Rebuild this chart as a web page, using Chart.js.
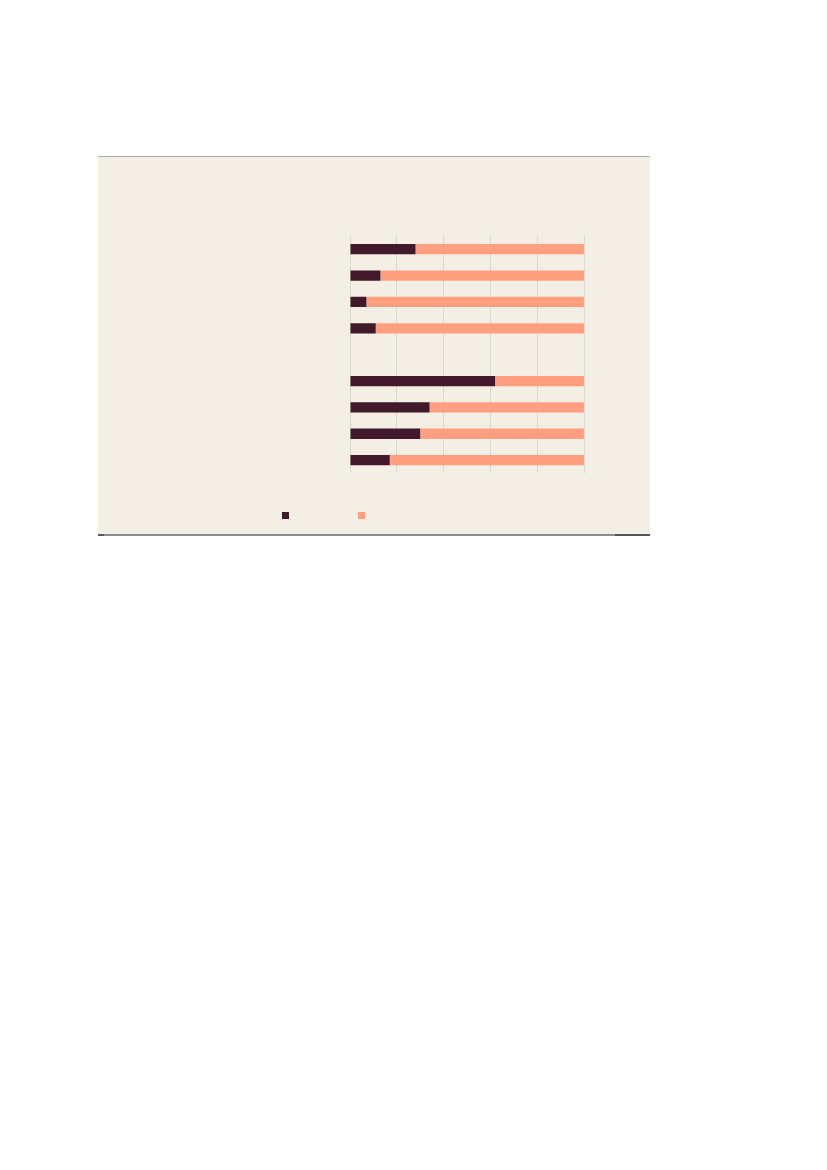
<!DOCTYPE html>
<html>
<head>
<meta charset="utf-8">
<script src="https://cdn.jsdelivr.net/npm/chart.js@4.4.1/dist/chart.umd.min.js"></script>
<style>
  html, body { margin: 0; padding: 0; background: #ffffff; }
  body { width: 827px; height: 1170px; position: relative; overflow: hidden; }
  #panel {
    position: absolute; left: 98px; top: 156px; width: 552px; height: 379px;
    background: #f4efe5; border-top: 1px solid #a9a9a9;
  }
  #bottomRule {
    position: absolute; left: 98px; top: 534px; width: 552px; height: 2px;
    background: linear-gradient(to right, #5a5a5a 0px, #5a5a5a 6px, #8e8e8e 6px, #8e8e8e 517px, #555555 517px, #555555 552px);
  }
  #chart { position: absolute; left: 98px; top: 157px; }
</style>
</head>
<body>
<div id="panel"></div>
<canvas id="chart" width="552" height="378"></canvas>
<div id="bottomRule"></div>
<script>
// Categories (row labels are not printed in the reference)
const categories = ['Row 1', 'Row 2', 'Row 3', 'Row 4', 'Gap', 'Row 5', 'Row 6', 'Row 7', 'Row 8'];
// Series values (shares, %)
const seriesDark  = [28, 13, 7, 11, null, 62, 34, 30, 17];
const seriesLight = [72, 87, 93, 89, null, 38, 66, 70, 83];
// Axis ticks
const xTicks = [0, 20, 40, 60, 80, 100];

const darkColor = '#41192a';
const lightColor = '#ff9f80';

new Chart(document.getElementById('chart'), {
  type: 'bar',
  data: {
    labels: categories,
    datasets: [
      { label: '', data: seriesDark, backgroundColor: darkColor, borderWidth: 0,
        categoryPercentage: 1, barPercentage: 0.39 },
      { label: '', data: seriesLight, backgroundColor: lightColor, borderWidth: 0,
        categoryPercentage: 1, barPercentage: 0.39 }
    ]
  },
  options: {
    indexAxis: 'y',
    responsive: false,
    animation: false,
    layout: { padding: { left: 159, right: 66, top: 79, bottom: 3.5 } },
    scales: {
      x: {
        stacked: true,
        min: xTicks[0],
        max: xTicks[xTicks.length - 1],
        afterBuildTicks: (axis) => { axis.ticks = xTicks.map(v => ({ value: v })); },
        ticks: { display: false },
        grid: { color: '#d9d7d3', lineWidth: 1, drawTicks: false },
        border: { display: false },
        afterFit: (axis) => { axis.height = 11.2; }
      },
      y: {
        stacked: true,
        ticks: { display: false },
        grid: { display: false },
        border: { display: false },
        afterFit: (axis) => { axis.width = 93; }
      }
    },
    plugins: {
      tooltip: { enabled: false },
      legend: {
        position: 'bottom',
        align: 'start',
        labels: {
          boxWidth: 7,
          boxHeight: 7,
          padding: 25,
          font: { size: 12, family: 'Roboto' },
          generateLabels: (chart) => {
            const ds = chart.data.datasets;
            return [
              { text: ds[0].label, fillStyle: ds[0].backgroundColor, strokeStyle: ds[0].backgroundColor, lineWidth: 0, hidden: false, datasetIndex: 0 },
              { text: '', fillStyle: 'rgba(0,0,0,0)', strokeStyle: 'rgba(0,0,0,0)', lineWidth: 0, hidden: false, datasetIndex: -1 },
              { text: ds[1].label, fillStyle: ds[1].backgroundColor, strokeStyle: ds[1].backgroundColor, lineWidth: 0, hidden: false, datasetIndex: 1 }
            ];
          }
        }
      }
    }
  }
});
</script>
</body>
</html>
